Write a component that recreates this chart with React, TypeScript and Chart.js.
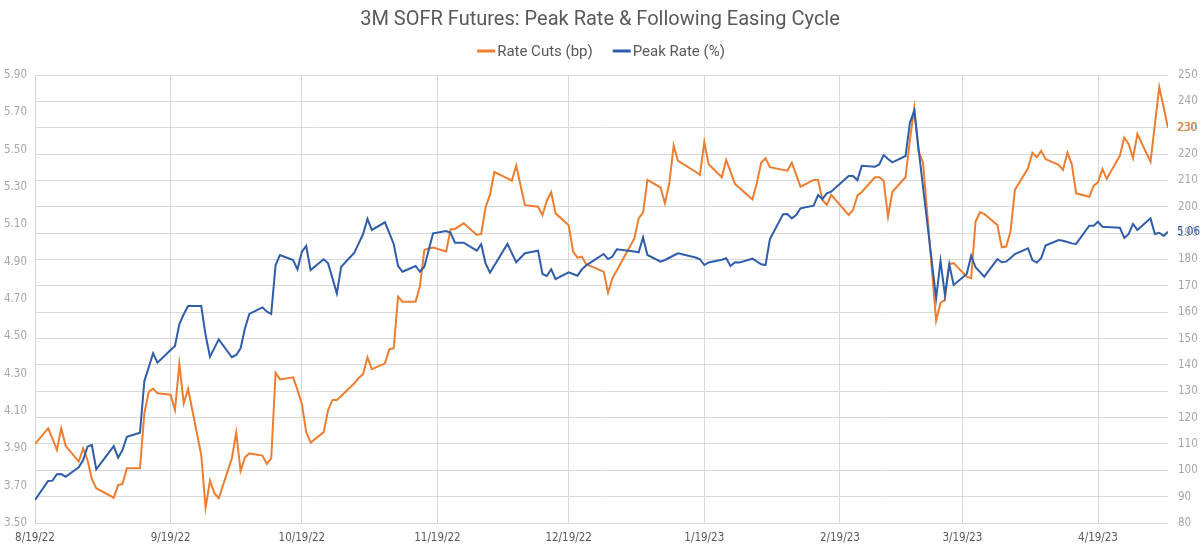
import React, { useEffect, useRef } from "react";
import { Chart, registerables } from "chart.js";

Chart.register(...registerables);

const TITLE = "3M SOFR Futures: Peak Rate & Following Easing Cycle";

const dates = [
  "8/19/22", "8/22/22", "8/23/22", "8/24/22", "8/25/22", "8/26/22",
  "8/29/22", "8/30/22", "8/31/22", "9/1/22", "9/2/22",
  "9/6/22", "9/7/22", "9/8/22", "9/9/22",
  "9/12/22", "9/13/22", "9/14/22", "9/15/22", "9/16/22",
  "9/19/22", "9/20/22", "9/21/22", "9/22/22", "9/23/22",
  "9/26/22", "9/27/22", "9/28/22", "9/29/22", "9/30/22",
  "10/3/22", "10/4/22", "10/5/22", "10/6/22", "10/7/22",
  "10/10/22", "10/11/22", "10/12/22", "10/13/22", "10/14/22",
  "10/17/22", "10/18/22", "10/19/22", "10/20/22", "10/21/22",
  "10/24/22", "10/25/22", "10/26/22", "10/27/22", "10/28/22",
  "10/31/22", "11/1/22", "11/2/22", "11/3/22", "11/4/22",
  "11/7/22", "11/8/22", "11/9/22", "11/10/22", "11/11/22",
  "11/14/22", "11/15/22", "11/16/22", "11/17/22", "11/18/22",
  "11/21/22", "11/22/22", "11/23/22", "11/25/22",
  "11/28/22", "11/29/22", "11/30/22", "12/1/22", "12/2/22",
  "12/5/22", "12/6/22", "12/7/22", "12/8/22", "12/9/22",
  "12/12/22", "12/13/22", "12/14/22", "12/15/22", "12/16/22",
  "12/19/22", "12/20/22", "12/21/22", "12/22/22", "12/23/22",
  "12/27/22", "12/28/22", "12/29/22", "12/30/22",
  "1/3/23", "1/4/23", "1/5/23", "1/6/23",
  "1/9/23", "1/10/23", "1/11/23", "1/12/23", "1/13/23",
  "1/17/23", "1/18/23", "1/19/23", "1/20/23",
  "1/23/23", "1/24/23", "1/25/23", "1/26/23", "1/27/23",
  "1/30/23", "1/31/23", "2/1/23", "2/2/23", "2/3/23",
  "2/6/23", "2/7/23", "2/8/23", "2/9/23", "2/10/23",
  "2/13/23", "2/14/23", "2/15/23", "2/16/23", "2/17/23",
  "2/21/23", "2/22/23", "2/23/23", "2/24/23",
  "2/27/23", "2/28/23", "3/1/23", "3/2/23", "3/3/23",
  "3/6/23", "3/7/23", "3/8/23", "3/9/23", "3/10/23",
  "3/13/23", "3/14/23", "3/15/23", "3/16/23", "3/17/23",
  "3/20/23", "3/21/23", "3/22/23", "3/23/23", "3/24/23",
  "3/27/23", "3/28/23", "3/29/23", "3/30/23", "3/31/23",
  "4/3/23", "4/4/23", "4/5/23", "4/6/23", "4/7/23",
  "4/10/23", "4/11/23", "4/12/23", "4/13/23", "4/14/23",
  "4/17/23", "4/18/23", "4/19/23", "4/20/23", "4/21/23",
  "4/24/23", "4/25/23", "4/26/23", "4/27/23", "4/28/23",
  "5/1/23", "5/2/23", "5/3/23", "5/4/23", "5/5/23",
];

// Cumulative cuts priced after the peak, in basis points (right axis)
const rateCuts = [
  110.0, 115.9, 112.0, 107.7, 115.9, 109.3,
  103.3, 108.3, 103.9, 96.6, 93.2,
  89.6, 94.4, 94.8, 100.8,
  100.8, 121.6, 129.8, 131.0, 129.2,
  128.7, 122.9, 140.3, 125.4, 130.9,
  105.8, 85.8, 96.1, 91.3, 89.4,
  104.5, 114.3, 99.8, 104.9, 106.4,
  105.6, 102.4, 104.5, 137.0, 134.5,
  135.3, 130.5, 125.2, 114.5, 110.5,
  114.5, 122.9, 126.7, 126.7, 128.2,
  133.0, 135.0, 136.5, 142.9, 138.4,
  140.6, 145.9, 146.3, 165.9, 164.0,
  164.0, 169.9, 183.6, 184.2, 184.5,
  183.0, 191.5, 191.6, 193.7,
  189.3, 189.7, 199.8, 204.5, 213.2,
  210.8, 209.9, 215.6, 208.1, 200.6,
  200.0, 196.8, 202.3, 205.5, 197.5,
  193.0, 183.0, 180.7, 181.1, 178.2,
  175.4, 167.4, 172.9, 175.8,
  188.0, 195.6, 197.8, 210.2,
  207.3, 201.3, 208.9, 223.2, 217.4,
  213.3, 212.1, 224.5, 216.1,
  211.2, 217.8, 213.3, 208.7, 207.2,
  202.8, 208.9, 216.7, 218.4, 215.0,
  214.0, 213.7, 216.7, 212.2, 207.6,
  210.2, 210.2, 202.6, 200.7, 204.5,
  196.9, 198.8, 204.2, 205.6,
  211.2, 211.2, 209.9, 196.2, 205.7,
  211.2, 225.3, 237.6, 220.9, 216.7,
  156.8, 163.6, 164.6, 178.3, 178.6,
  173.5, 172.9, 194.3, 197.9, 197.3,
  193.1, 184.6, 184.9, 190.6, 206.4,
  214.6, 220.5, 218.8, 221.2, 218.1,
  215.9, 214.0, 220.5, 216.2, 205.1,
  203.8, 207.9, 209.3, 214.3, 210.6,
  219.4, 226.2, 223.8, 218.4, 227.6,
  217.1, 231.2, 245.4, 237.7, 230.0,
];

// Peak implied rate, in percent (left axis)
const peakRate = [
  3.623, 3.725, 3.727, 3.761, 3.762, 3.748,
  3.798, 3.837, 3.909, 3.918, 3.788,
  3.912, 3.85, 3.891, 3.962,
  3.984, 4.261, 4.334, 4.409, 4.359,
  4.427, 4.448, 4.566, 4.618, 4.662,
  4.662, 4.507, 4.391, 4.437, 4.484,
  4.388, 4.4, 4.436, 4.543, 4.62,
  4.655, 4.632, 4.62, 4.882, 4.936,
  4.909, 4.859, 4.953, 4.984, 4.855,
  4.913, 4.891, 4.811, 4.73, 4.873,
  4.948, 4.998, 5.048, 5.129, 5.07,
  5.111, 5.053, 4.995, 4.877, 4.846,
  4.877, 4.846, 4.873, 4.962, 5.052,
  5.064, 5.055, 5.002, 5.002,
  4.959, 4.993, 4.891, 4.841, 4.88,
  4.995, 4.946, 4.897, 4.921, 4.945,
  4.959, 4.834, 4.823, 4.859, 4.807,
  4.843, 4.834, 4.825, 4.859, 4.88,
  4.941, 4.914, 4.927, 4.966,
  4.955, 4.95, 5.03, 4.936,
  4.9, 4.909, 4.921, 4.933, 4.945,
  4.922, 4.913, 4.882, 4.896,
  4.91, 4.918, 4.877, 4.897, 4.895,
  4.916, 4.901, 4.886, 4.882, 5.021,
  5.154, 5.155, 5.132, 5.15, 5.186,
  5.2, 5.257, 5.236, 5.266, 5.275,
  5.359, 5.359, 5.337, 5.414,
  5.409, 5.421, 5.471, 5.45, 5.432,
  5.466, 5.644, 5.709, 5.5, 5.3,
  4.704, 4.904, 4.721, 4.886, 4.775,
  4.834, 4.932, 4.87, 4.845, 4.82,
  4.914, 4.897, 4.9, 4.92, 4.941,
  4.972, 4.909, 4.895, 4.918, 4.986,
  5.016, 5.012, 5.005, 4.998, 4.995,
  5.093, 5.093, 5.114, 5.087, 5.086,
  5.082, 5.028, 5.047, 5.102, 5.07,
  5.132, 5.048, 5.055, 5.038, 5.06,
];

const xTickDates = [
  "8/19/22", "9/19/22", "10/19/22", "11/19/22", "12/19/22",
  "1/19/23", "2/19/23", "3/19/23", "4/19/23",
];
const leftTicks = [3.5, 3.7, 3.9, 4.1, 4.3, 4.5, 4.7, 4.9, 5.1, 5.3, 5.5, 5.7, 5.9];
const rightTicks = [80, 90, 100, 110, 120, 130, 140, 150, 160, 170, 180, 190, 200, 210, 220, 230, 240, 250];

const ORANGE = "#ED7D31";
const BLUE = "#2F5DAA";
const GRID = "#D9D9D9";
const TEXT_DARK = "#595959";
const TEXT_LIGHT = "#A6A6A6";
const FONT_MAIN = "Roboto, 'DejaVu Sans', sans-serif";
const FONT_TICK = "'Liberation Sans Narrow', 'DejaVu Sans Condensed', Roboto, sans-serif";

// Days elapsed since the first observation, for a linear date axis
function dayIndex(s: string): number {
  const [m, d, y] = s.split("/").map(Number);
  const [m0, d0, y0] = dates[0].split("/").map(Number);
  const t = Date.UTC(2000 + y, m - 1, d);
  const t0 = Date.UTC(2000 + y0, m0 - 1, d0);
  return Math.round((t - t0) / 86400000);
}

const headerPlugin = {
  id: "header",
  afterDraw(chart: any) {
    const ctx = chart.ctx as CanvasRenderingContext2D;
    ctx.save();
    ctx.fillStyle = TEXT_DARK;
    ctx.textAlign = "center";
    ctx.textBaseline = "middle";
    ctx.font = `20px ${FONT_MAIN}`;
    ctx.fillText(TITLE, 600, 20);

    // legend
    ctx.font = `15px ${FONT_MAIN}`;
    const items = chart.data.datasets.map((ds: any) => ({
      label: ds.label as string,
      color: ds.borderColor as string,
    }));
    const swatch = 18;
    const gap = 2;
    const spacing = 20;
    const widths = items.map((it: any) => swatch + gap + ctx.measureText(it.label).width);
    const total = widths.reduce((a: number, b: number) => a + b, 0) + spacing * (items.length - 1);
    let x = 601 - total / 2;
    const y = 51;
    ctx.textAlign = "left";
    items.forEach((it: any, i: number) => {
      ctx.fillStyle = it.color;
      ctx.fillRect(x, y - 1.5, swatch, 3);
      ctx.fillStyle = TEXT_DARK;
      ctx.fillText(it.label, x + swatch + gap, y + 1);
      x += widths[i] + spacing;
    });
    ctx.restore();
  },
};

// Value label beside the final point of each series
const endLabelPlugin = {
  id: "endLabels",
  afterDatasetsDraw(chart: any) {
    const ctx = chart.ctx as CanvasRenderingContext2D;
    ctx.save();
    ctx.font = `11.5px ${FONT_TICK}`;
    ctx.textAlign = "left";
    ctx.textBaseline = "middle";
    chart.data.datasets.forEach((ds: any, i: number) => {
      const meta = chart.getDatasetMeta(i);
      const last = meta.data[meta.data.length - 1];
      const v = ds.data[ds.data.length - 1].y;
      ctx.fillStyle = ds.borderColor;
      ctx.fillText(ds.yAxisID === "y1" ? v.toFixed(0) : v.toFixed(2), last.x + 9, last.y);
    });
    ctx.restore();
  },
};

export default function App() {
  const canvasRef = useRef<HTMLCanvasElement | null>(null);

  useEffect(() => {
    const canvas = canvasRef.current;
    if (!canvas) return;
    const lastDay = dayIndex(dates[dates.length - 1]);
    const chart = new Chart(canvas, {
      type: "line",
      data: {
        datasets: [
          {
            label: "Rate Cuts (bp)",
            data: dates.map((d, i) => ({ x: dayIndex(d), y: rateCuts[i] })),
            borderColor: ORANGE,
            backgroundColor: ORANGE,
            borderWidth: 2,
            pointRadius: 0,
            tension: 0,
            yAxisID: "y1",
            order: 1,
          },
          {
            label: "Peak Rate (%)",
            data: dates.map((d, i) => ({ x: dayIndex(d), y: peakRate[i] })),
            borderColor: BLUE,
            backgroundColor: BLUE,
            borderWidth: 2,
            pointRadius: 0,
            tension: 0,
            yAxisID: "y",
            order: 0,
          },
        ],
      },
      options: {
        animation: false,
        responsive: false,
        maintainAspectRatio: false,
        layout: { padding: { top: 75, left: 0, right: 0, bottom: 0 } },
        plugins: {
          legend: { display: false },
          title: { display: false },
          tooltip: { enabled: false },
        },
        scales: {
          x: {
            type: "linear",
            min: 0,
            max: lastDay,
            afterBuildTicks: (axis: any) => {
              axis.ticks = xTickDates.map((d) => ({ value: dayIndex(d) }));
            },
            afterFit: (axis: any) => {
              axis.height = 26;
            },
            ticks: {
              autoSkip: false,
              maxRotation: 0,
              padding: 8,
              color: TEXT_DARK,
              font: { family: FONT_TICK, size: 11.5 },
              callback: (value: any) => {
                const idx = xTickDates.findIndex((d) => dayIndex(d) === value);
                return idx >= 0 ? xTickDates[idx] : "";
              },
            },
            grid: { color: GRID, lineWidth: 1, drawTicks: false },
            border: { display: false },
          },
          y: {
            position: "left",
            min: 3.5,
            max: 5.9,
            afterBuildTicks: (axis: any) => {
              axis.ticks = leftTicks.map((v) => ({ value: v }));
            },
            afterFit: (axis: any) => {
              axis.width = 35;
            },
            ticks: {
              padding: 8,
              color: TEXT_LIGHT,
              font: { family: FONT_TICK, size: 11.5 },
              callback: (value: any) => Number(value).toFixed(2),
            },
            grid: { display: false, drawTicks: false },
            border: { display: false },
          },
          y1: {
            position: "right",
            min: 80,
            max: 250,
            afterBuildTicks: (axis: any) => {
              axis.ticks = rightTicks.map((v) => ({ value: v }));
            },
            afterFit: (axis: any) => {
              axis.width = 32;
            },
            ticks: {
              padding: 10,
              color: TEXT_LIGHT,
              font: { family: FONT_TICK, size: 11.5 },
              callback: (value: any) => String(value),
            },
            grid: { color: GRID, lineWidth: 1, drawTicks: false },
            border: { display: false },
          },
        },
      },
      plugins: [headerPlugin, endLabelPlugin],
    });
    return () => chart.destroy();
  }, []);

  return (
    <div style={{ position: "fixed", left: 0, top: 0, width: 1200, height: 549, background: "#fff" }}>
      <canvas ref={canvasRef} width={1200} height={549} style={{ width: 1200, height: 549 }} />
    </div>
  );
}
